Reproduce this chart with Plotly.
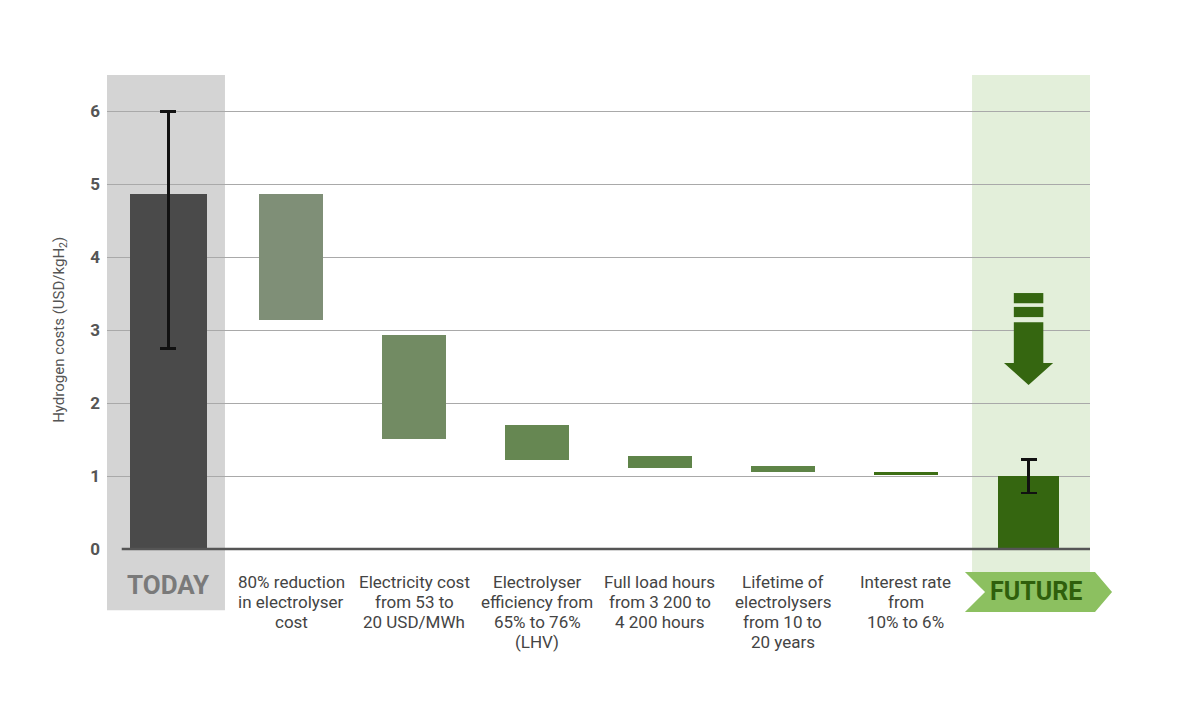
import plotly.graph_objects as go

# ---- data ----
categories = ["Today", "80% reduction", "Electricity cost", "Electrolyser efficiency",
              "Full load hours", "Lifetime", "Interest rate", "Future"]
label_lines = [
    [],
    ["80% reduction", "in electrolyser", "cost"],
    ["Electricity cost", "from 53 to", "20 USD/MWh"],
    ["Electrolyser", "efficiency from", "65% to 76%", "(LHV)"],
    ["Full load hours", "from 3 200 to", "4 200 hours"],
    ["Lifetime of", "electrolysers", "from 10 to", "20 years"],
    ["Interest rate", "from", "10% to 6%"],
    [],
]
top_values = [4.87, 4.87, 2.93, 1.70, 1.27, 1.14, 1.06, 1.00]
bottom_values = [0.0, 3.14, 1.51, 1.22, 1.11, 1.05, 1.01, 0.0]
range_high = [6.00, None, None, None, None, None, None, 1.23]
range_low = [2.75, None, None, None, None, None, None, 0.77]
yticks = [0, 1, 2, 3, 4, 5, 6]

step_colors = ["#7f8f77", "#728b63", "#668752", "#5f8449", "#5e8447", "#3d6e14"]
FONT = "Roboto, Arial, sans-serif"

fig = go.Figure()

# Today bar
fig.add_trace(go.Bar(
    x=[categories[0]], y=[top_values[0] - bottom_values[0]], base=[bottom_values[0]],
    width=0.62, marker=dict(color="#4a4a4a", line=dict(width=0)),
    error_y=dict(type="data", symmetric=False,
                 array=[range_high[0] - top_values[0]],
                 arrayminus=[top_values[0] - range_low[0]],
                 color="#111111", thickness=2.5, width=8),
    showlegend=False, hoverinfo="skip"))

# Step bars
fig.add_trace(go.Bar(
    x=categories[1:7],
    y=[t - b for t, b in zip(top_values[1:7], bottom_values[1:7])],
    base=bottom_values[1:7],
    width=0.52, marker=dict(color=step_colors, line=dict(width=0)),
    showlegend=False, hoverinfo="skip"))

# Future bar
fig.add_trace(go.Bar(
    x=[categories[7]], y=[top_values[7] - bottom_values[7]], base=[bottom_values[7]],
    width=0.5, marker=dict(color="#356610", line=dict(width=0)),
    error_y=dict(type="data", symmetric=False,
                 array=[range_high[7] - top_values[7]],
                 arrayminus=[top_values[7] - range_low[7]],
                 color="#111111", thickness=2.5, width=8),
    showlegend=False, hoverinfo="skip"))

shapes = [
    # Today shading
    dict(type="rect", xref="x", yref="paper", x0=-0.5, x1=0.46, y0=-0.129, y1=1.0,
         fillcolor="#d4d4d4", line=dict(width=0), layer="below"),
    # Future shading
    dict(type="rect", xref="x", yref="paper", x0=6.54, x1=7.5, y0=-0.05, y1=1.0,
         fillcolor="#e3efda", line=dict(width=0), layer="below"),
    # Baseline
    dict(type="line", xref="x", yref="paper", x0=-0.38, x1=7.5, y0=0, y1=0,
         line=dict(color="#555555", width=2.5), layer="above"),
    # Future banner (chevron)
    dict(type="path", xref="paper", yref="paper",
         path="M 0.8728 -0.0485 L 1.0051 -0.0485 L 1.0224 -0.0907 L 1.0051 -0.133 "
              "L 0.8728 -0.133 L 0.8932 -0.0907 Z",
         fillcolor="#8cc060", line=dict(width=0), layer="above"),
    # Arrow: two bars + shaft with head
    dict(type="rect", xref="x", yref="y", x0=6.88, x1=7.12, y0=3.37, y1=3.51,
         fillcolor="#356610", line=dict(width=0), layer="above"),
    dict(type="rect", xref="x", yref="y", x0=6.88, x1=7.12, y0=3.18, y1=3.32,
         fillcolor="#356610", line=dict(width=0), layer="above"),
    dict(type="path", xref="x", yref="y",
         path="M 6.88 3.11 L 7.12 3.11 L 7.12 2.55 L 7.2 2.55 L 7.0 2.25 "
              "L 6.8 2.55 L 6.88 2.55 Z",
         fillcolor="#356610", line=dict(width=0), layer="above"),
]

annotations = []
first_line_y = -0.0696
line_step = 20 / 474
for cat, lines in zip(categories, label_lines):
    for i, line in enumerate(lines):
        annotations.append(dict(
            x=cat, xref="x", y=first_line_y - i * line_step, yref="paper", text=line,
            showarrow=False, xanchor="center", yanchor="middle", align="center",
            font=dict(family=FONT, size=17, color="#444444")))

annotations += [
    dict(x=categories[0], xref="x", y=-0.076, yref="paper", text="<b>TODAY</b>",
         showarrow=False, xanchor="center", yanchor="middle",
         font=dict(family=FONT, size=26, color="#7a7a7a")),
    dict(x=0.945, xref="paper", y=-0.0907, yref="paper", text="<b>FUTURE</b>",
         showarrow=False, xanchor="center", yanchor="middle",
         font=dict(family=FONT, size=25, color="#2f5f0c")),
    dict(x=-0.048, xref="paper", y=0.462, yref="paper",
         text="Hydrogen costs (USD/kgH<sub>2</sub>)", textangle=-90, showarrow=False,
         xanchor="center", yanchor="middle",
         font=dict(family=FONT, size=15, color="#555555")),
]

fig.update_layout(
    width=1174, height=700,
    margin=dict(l=99, r=92, t=67, b=159),
    paper_bgcolor="white", plot_bgcolor="white",
    barmode="overlay",
    bargap=0,
    shapes=shapes,
    annotations=annotations,
    xaxis=dict(type="category", categoryorder="array", categoryarray=categories,
               range=[-0.5, 7.5], showticklabels=False, showgrid=False,
               zeroline=False, showline=False, fixedrange=True),
    yaxis=dict(range=[0, 6.5], tickvals=yticks, showgrid=True,
               gridcolor="#a9a9a9", gridwidth=1.2, zeroline=False, showline=False,
               ticks="", ticklabelstandoff=6,
               tickfont=dict(family=FONT, size=17, color="#555555", weight="bold"),
               fixedrange=True),
)

fig.write_html("out.html")
